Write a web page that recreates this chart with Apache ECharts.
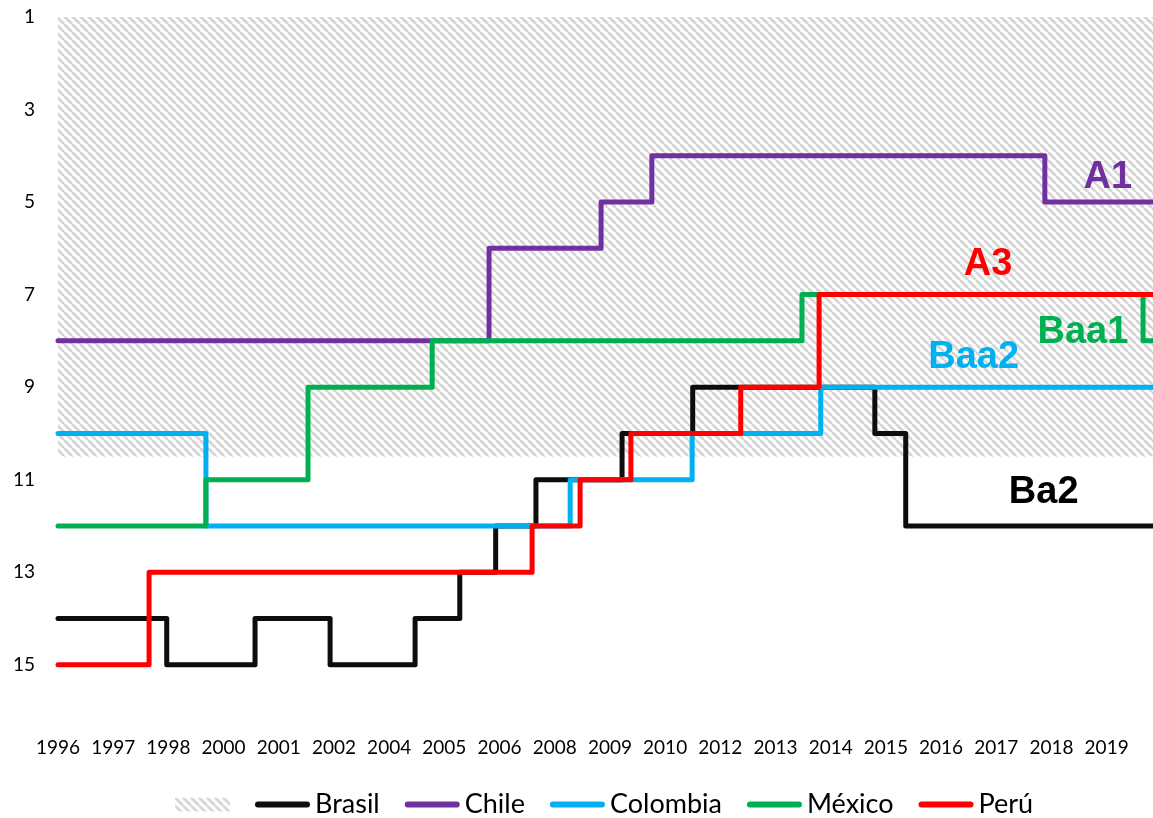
<!DOCTYPE html>
<html>
<head>
<meta charset="utf-8">
<script src="https://cdn.jsdelivr.net/npm/echarts@6/dist/echarts.min.js"></script>
<style>
html, body { margin: 0; padding: 0; background: #fff; }
#main { width: 1153px; height: 818px; }
</style>
</head>
<body>
<div id="main"></div>
<script>
// x is measured in label slots: 0 = first label (1996), 1 = second label, ...
const yearLabels = ['1996', '1997', '1998', '2000', '2001', '2002', '2004', '2005', '2006', '2008',
  '2009', '2010', '2012', '2013', '2014', '2015', '2016', '2017', '2018', '2019']
const xEnd = 19.84

// rating scale: 1 = Aaa ... 15 = B3 (smaller is better)
const brasilX = [0, 1.97, 3.57, 4.93, 6.47, 7.28, 7.93, 8.66, 10.22, 11.50, 14.80, 15.36, xEnd]
const brasilY = [14, 15, 14, 15, 14, 13, 12, 11, 10, 9, 10, 12, 12]
const chileX = [0, 7.81, 9.84, 10.76, 17.88, xEnd]
const chileY = [8, 6, 5, 4, 5, 5]
const colombiaX = [0, 2.68, 9.28, 11.49, 13.82, xEnd]
const colombiaY = [10, 12, 11, 10, 9, 9]
const mexicoX = [0, 2.68, 4.53, 6.78, 13.48, 19.66, xEnd]
const mexicoY = [12, 11, 9, 8, 7, 8, 8]
const peruX = [0, 1.65, 8.59, 9.46, 10.38, 12.37, 13.79, xEnd]
const peruY = [15, 13, 12, 11, 10, 9, 7, 7]

// investment grade band (hatched)
const gradeName = 'Grado de inversión'
const gradeX = [0, xEnd]
const gradeY = [10.5, 10.5]

// rating notes written on the chart
const noteText = ['A1', 'A3', 'Baa1', 'Baa2', 'Ba2']
const noteX = [19.02, 16.85, 18.57, 16.59, 17.86]
const noteY = [4.48, 6.34, 7.83, 8.37, 11.28]
const noteColor = ['#7030a0', '#ff0000', '#00b050', '#00b0f0', '#000000']

const countries = ['Brasil', 'Chile', 'Colombia', 'México', 'Perú']
const colors = ['#0d0d0d', '#7030a0', '#00b0f0', '#00b050', '#ff0000']
const xs = [brasilX, chileX, colombiaX, mexicoX, peruX]
const ys = [brasilY, chileY, colombiaY, mexicoY, peruY]

function hatch() {
  const c = document.createElement('canvas')
  c.width = 8
  c.height = 8
  const ctx = c.getContext('2d')
  ctx.strokeStyle = '#d6d6d6'
  ctx.lineWidth = 2.8
  for (const k of [-8, 0, 8]) {
    ctx.beginPath()
    ctx.moveTo(k, 0)
    ctx.lineTo(k + 8, 8)
    ctx.stroke()
  }
  return { image: c, repeat: 'repeat' }
}
const pattern = hatch()

// thick line with round ends for the legend
const lineIcon = 'path://M3,0 L53,0 A3,3 0 0 1 53,6 L3,6 A3,3 0 0 1 3,0 Z'

const lines = countries.map((name, i) => ({
  name: name,
  type: 'line',
  step: 'end',
  symbol: 'none',
  z: 3,
  itemStyle: { color: colors[i] },
  lineStyle: { color: colors[i], width: 5, cap: 'round', join: 'round' },
  data: xs[i].map((x, j) => [x, ys[i][j]])
}))

const chart = echarts.init(document.getElementById('main'))
chart.setOption({
  animation: false,
  textStyle: { fontFamily: 'Lato' },
  grid: { left: 58, right: 0, top: 17, bottom: 107 },
  legend: {
    left: 170,
    top: 786,
    itemWidth: 55,
    itemHeight: 14,
    itemGap: 25,
    textStyle: { fontSize: 27, color: '#000', fontFamily: 'Lato' },
    formatter: name => (name === gradeName ? '' : name),
    data: [{ name: gradeName, icon: 'rect', itemStyle: { color: pattern } }]
      .concat(countries.map(n => ({ name: n, icon: lineIcon })))
  },
  xAxis: {
    type: 'value',
    min: 0,
    max: xEnd,
    interval: 1,
    axisLine: { show: false },
    axisTick: { show: false },
    splitLine: { show: false },
    axisLabel: {
      margin: 27,
      fontSize: 19,
      color: '#000',
      showMaxLabel: false,
      formatter: v => (Number.isInteger(v) && yearLabels[v]) || ''
    }
  },
  yAxis: {
    type: 'value',
    inverse: true,
    min: 1,
    max: 16,
    interval: 2,
    axisLine: { show: false },
    axisTick: { show: false },
    splitLine: { show: false },
    axisLabel: {
      margin: 23,
      fontSize: 19,
      color: '#000',
      formatter: v => (v > 15 ? '' : v)
    }
  },
  series: [
    {
      name: gradeName,
      type: 'line',
      symbol: 'none',
      z: 1,
      silent: true,
      itemStyle: { color: pattern },
      lineStyle: { width: 0 },
      areaStyle: { color: pattern, opacity: 1, origin: 'start' },
      data: gradeX.map((x, j) => [x, gradeY[j]])
    }
  ].concat(lines).concat([
    {
      name: 'notas',
      type: 'scatter',
      symbolSize: 0,
      silent: true,
      z: 5,
      itemStyle: { opacity: 1 },
      label: {
        show: true,
        position: 'inside',
        formatter: '{b}',
        fontFamily: 'Liberation Sans',
        fontWeight: 'bold',
        fontSize: 38,
        opacity: 1
      },
      data: noteText.map((t, i) => ({
        name: t,
        value: [noteX[i], noteY[i]],
        label: { color: noteColor[i] }
      }))
    }
  ])
})
</script>
</body>
</html>
